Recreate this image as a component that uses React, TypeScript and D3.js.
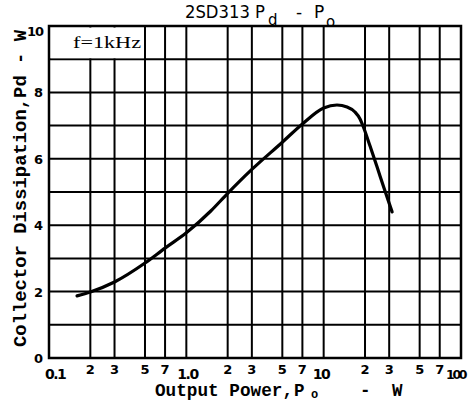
import React from "react";
import * as d3 from "d3";

const outputPower = [0.16, 0.2, 0.3, 0.5, 0.7, 1.0, 1.5, 2, 3, 5, 7, 10, 12.5, 14.8, 16.9, 18.4, 19.5, 21.7, 24.5, 27.5, 31.5];
const dissipation = [1.87, 1.99, 2.29, 2.86, 3.31, 3.77, 4.42, 4.96, 5.68, 6.5, 7.05, 7.53, 7.62, 7.56, 7.41, 7.2, 6.95, 6.4, 5.75, 5.12, 4.4];

const xGridValues = [0.2, 0.3, 0.5, 0.7, 1, 2, 3, 5, 7, 10, 20, 30, 50, 70];
const yGridValues = [1, 2, 3, 4, 5, 6, 7, 8, 9];
const xMinorLabels = [
  { v: 0.2, t: "2" }, { v: 0.3, t: "3" }, { v: 0.5, t: "5" }, { v: 0.7, t: "7" },
  { v: 2, t: "2" }, { v: 3, t: "3" }, { v: 5, t: "5" }, { v: 7, t: "7" },
  { v: 20, t: "2" }, { v: 30, t: "3" }, { v: 50, t: "5" }, { v: 70, t: "7" },
];
const xMajorLabels = [
  { v: 0.1, t: "0.1" }, { v: 1, t: "1.0" }, { v: 10, t: "10" }, { v: 100, t: "100" },
];
const yLabels = [0, 2, 4, 6, 8, 10];

const W = 468, H = 401;
const L = 49, R = 461, T = 26, B = 358;

export default function App() {
  const x = d3.scaleLog().domain([0.1, 100]).range([L, R]);
  const y = d3.scaleLinear().domain([0, 10]).range([B, T]);
  const pts: [number, number][] = outputPower.map((p, i) => [x(p), y(dissipation[i])]);
  const line = d3.line().curve(d3.curveMonotoneX)(pts) || "";
  const sans = "'DejaVu Sans', sans-serif";
  const mono = "'Liberation Mono', 'Courier New', monospace";
  const majorPos: Record<string, [number, number, number]> = {
    "0.1": [x(0.1) - 4, 14, -1.5],
    "1.0": [x(1) - 9, 14, -1.5],
    "10": [x(10) - 11, 14, -1.5],
    "100": [446, 12.5, -2.3],
  };
  return (
    <svg width={W} height={H} style={{ position: "absolute", left: 0, top: 0, background: "#fff" }}>
      <rect x={0} y={0} width={W} height={H} fill="#fff" />
      {xGridValues.map((v) => (
        <line key={"xg" + v} x1={x(v)} x2={x(v)} y1={T} y2={B} stroke="#000" strokeWidth={2} />
      ))}
      {yGridValues.map((v) => (
        <line key={"yg" + v} x1={L} x2={R} y1={y(v)} y2={y(v)} stroke="#000" strokeWidth={2} />
      ))}
      <rect x={L + 1.5} y={T + 1.5} width={x(0.5) - L - 2.5} height={y(9) - T - 2.5} fill="#fff" />
      <text x={73} y={48} fontFamily="'Liberation Serif', serif" fontSize={16} textLength={68} lengthAdjust="spacingAndGlyphs">f=1kHz</text>
      <rect x={L} y={T} width={R - L} height={B - T} fill="none" stroke="#000" strokeWidth={2.5} />
      <path d={line} fill="none" stroke="#000" strokeWidth={3.2} strokeLinecap="round" strokeLinejoin="round" />
      {yLabels.map((v) => (
        <text key={"yl" + v} x={43} y={y(v) + (v === 10 ? 10 : 5)} textAnchor="end" fontFamily={sans} fontWeight="bold" fontSize={13} letterSpacing={v === 10 ? -1 : 0}>{v}</text>
      ))}
      {xMinorLabels.map((d, i) => (
        <text key={"xm" + i} x={x(d.v)} y={374} textAnchor="middle" fontFamily={sans} fontWeight="bold" fontSize={13}>{d.t}</text>
      ))}
      {xMajorLabels.map((d, i) => (
        <text key={"xM" + i} x={majorPos[d.t][0]} y={379} fontFamily={sans} fontWeight="bold" fontSize={majorPos[d.t][1]} letterSpacing={majorPos[d.t][2]}>{d.t}</text>
      ))}
      <text x={155} y={396} fontFamily={mono} fontWeight="bold" fontSize={17.5} textLength={138} lengthAdjust="spacingAndGlyphs">Output Power,</text>
      <text x={294} y={396} fontFamily={mono} fontWeight="bold" fontSize={17.5}>P</text>
      <text x={311} y={398} fontFamily={mono} fontWeight="bold" fontSize={12}>o</text>
      <text x={360} y={396} fontFamily={mono} fontWeight="bold" fontSize={17.5}>-</text>
      <text x={392} y={396} fontFamily={mono} fontWeight="bold" fontSize={17.5}>W</text>
      <text transform={`translate(26,${347}) rotate(-90)`} fontFamily={mono} fontWeight="bold" fontSize={17.5} textLength={317} lengthAdjust="spacingAndGlyphs">Collector Dissipation,Pd - W</text>
      <text x={185} y={18} fontFamily={sans} fontSize={17} textLength={80} lengthAdjust="spacingAndGlyphs">2SD313 P</text>
      <text x={268} y={25} fontFamily={sans} fontSize={15}>d</text>
      <text x={296} y={18} fontFamily={sans} fontSize={17}>-</text>
      <text x={314} y={18} fontFamily={sans} fontSize={17}>P</text>
      <text x={326} y={27} fontFamily={sans} fontSize={15}>o</text>
    </svg>
  );
}
